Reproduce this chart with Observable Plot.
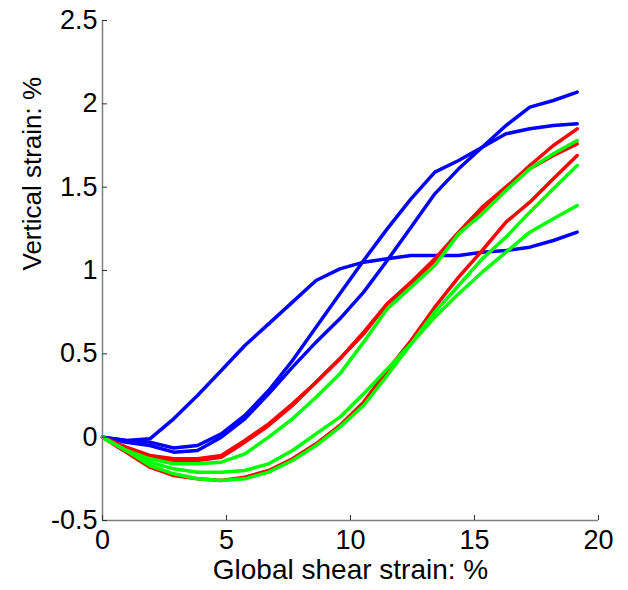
<!DOCTYPE html>
<html>
<head>
<meta charset="utf-8">
<script src="https://cdn.jsdelivr.net/npm/d3@7"></script>
<script src="https://cdn.jsdelivr.net/npm/@observablehq/plot@0.6"></script>
<style>
  html, body { margin: 0; padding: 0; background: #fff; }
  #chart { width: 628px; height: 590px; }
</style>
</head>
<body>
<div id="chart"></div>
<script>
// Global shear strain (%) at each measurement step
const shear = [0, 0.96, 1.91, 2.87, 3.83, 4.79, 5.74, 6.70, 7.66, 8.61, 9.57,
  10.53, 11.48, 12.44, 13.40, 14.36, 15.31, 16.27, 17.23, 18.18, 19.14];

// Vertical strain (%) series
const blueA = [0, -0.02, -0.01, 0.11, 0.25, 0.40, 0.55, 0.68, 0.81, 0.94, 1.01,
  1.05, 1.07, 1.09, 1.09, 1.09, 1.11, 1.12, 1.14, 1.18, 1.23];
const blueB = [0, -0.03, -0.05, -0.09, -0.08, 0.00, 0.11, 0.26, 0.42, 0.57, 0.71,
  0.87, 1.06, 1.26, 1.46, 1.61, 1.74, 1.87, 1.98, 2.02, 2.07];
const blueC = [0, -0.02, -0.03, -0.065, -0.05, 0.02, 0.13, 0.28, 0.46, 0.66, 0.86,
  1.06, 1.25, 1.43, 1.59, 1.66, 1.74, 1.82, 1.85, 1.87, 1.88];
const redA = [0, -0.06, -0.11, -0.13, -0.13, -0.11, -0.02, 0.08, 0.20, 0.33, 0.47,
  0.62, 0.80, 0.92, 1.06, 1.22, 1.37, 1.50, 1.63, 1.75, 1.85];
const redB = [0, -0.07, -0.12, -0.14, -0.14, -0.12, -0.03, 0.07, 0.19, 0.33, 0.47,
  0.63, 0.80, 0.93, 1.07, 1.23, 1.38, 1.50, 1.61, 1.69, 1.76];
const redC = [0, -0.09, -0.18, -0.23, -0.25, -0.26, -0.24, -0.20, -0.13, -0.04, 0.07,
  0.21, 0.40, 0.58, 0.78, 0.96, 1.12, 1.29, 1.41, 1.55, 1.69];
const greenA = [0, -0.08, -0.13, -0.16, -0.16, -0.15, -0.10, 0.00, 0.11, 0.24, 0.38,
  0.57, 0.77, 0.90, 1.03, 1.22, 1.34, 1.48, 1.61, 1.70, 1.78];
const greenB = [0, -0.08, -0.17, -0.22, -0.25, -0.26, -0.25, -0.21, -0.14, -0.05, 0.06,
  0.19, 0.37, 0.56, 0.75, 0.91, 1.07, 1.20, 1.35, 1.49, 1.63];
const greenC = [0, -0.08, -0.15, -0.19, -0.21, -0.21, -0.20, -0.16, -0.08, 0.02, 0.12,
  0.26, 0.41, 0.56, 0.72, 0.86, 0.99, 1.11, 1.23, 1.31, 1.39];

const seriesNames = ["blueA", "blueB", "blueC", "redA", "redB", "redC", "greenA", "greenB", "greenC"];
const seriesGroups = ["Group 1", "Group 1", "Group 1", "Group 2", "Group 2", "Group 2", "Group 3", "Group 3", "Group 3"];
const seriesValues = [blueA, blueB, blueC, redA, redB, redC, greenA, greenB, greenC];
const groupNames = ["Group 1", "Group 2", "Group 3"];

const xTicks = [0, 5, 10, 15, 20];
const yTicks = [-0.5, 0, 0.5, 1, 1.5, 2, 2.5];
const yTickLabels = ["-0.5", "0", "0.5", "1", "1.5", "2", "2.5"];

const xLabel = "Global shear strain: %";
const yLabel = "Vertical strain: %";

const rows = seriesValues.flatMap((vals, k) =>
  vals.map((v, i) => ({x: shear[i], y: v, line: seriesNames[k], group: seriesGroups[k]})));

const font = "'Liberation Sans', Arial, Helvetica, sans-serif";

const chart = Plot.plot({
  width: 628,
  height: 590,
  marginLeft: 102,
  marginRight: 30,
  marginTop: 20,
  marginBottom: 70,
  style: {fontFamily: font, fontSize: "27px", color: "#000", background: "#fff"},
  x: {domain: [0, 20]},
  y: {domain: [-0.5, 2.5]},
  color: {type: "ordinal", domain: groupNames, range: ["#0000ff", "#ff0000", "#00ff00"]},
  marks: [
    Plot.line(rows, {x: "x", y: "y", z: "line", stroke: "group", strokeWidth: 3.5}),
    Plot.ruleX([0], {stroke: "#7f7f7f", strokeWidth: 1.5}),
    Plot.ruleY([-0.5], {stroke: "#7f7f7f", strokeWidth: 1.5}),
    Plot.axisX({ticks: xTicks, tickSize: -5, tickPadding: 14, stroke: "#333", fontSize: 27, label: null}),
    Plot.axisY({ticks: yTicks, tickFormat: (d) => yTickLabels[yTicks.indexOf(d)], tickSize: -5, tickPadding: 10, stroke: "#333", fontSize: 27, label: null}),
    Plot.text([xLabel], {frameAnchor: "bottom", dy: 58, fontSize: 28, fill: "#000"}),
    Plot.text([yLabel], {frameAnchor: "left", rotate: -90, dx: -70, fontSize: 26, fill: "#000"})
  ]
});
document.getElementById("chart").appendChild(chart);
</script>
</body>
</html>
